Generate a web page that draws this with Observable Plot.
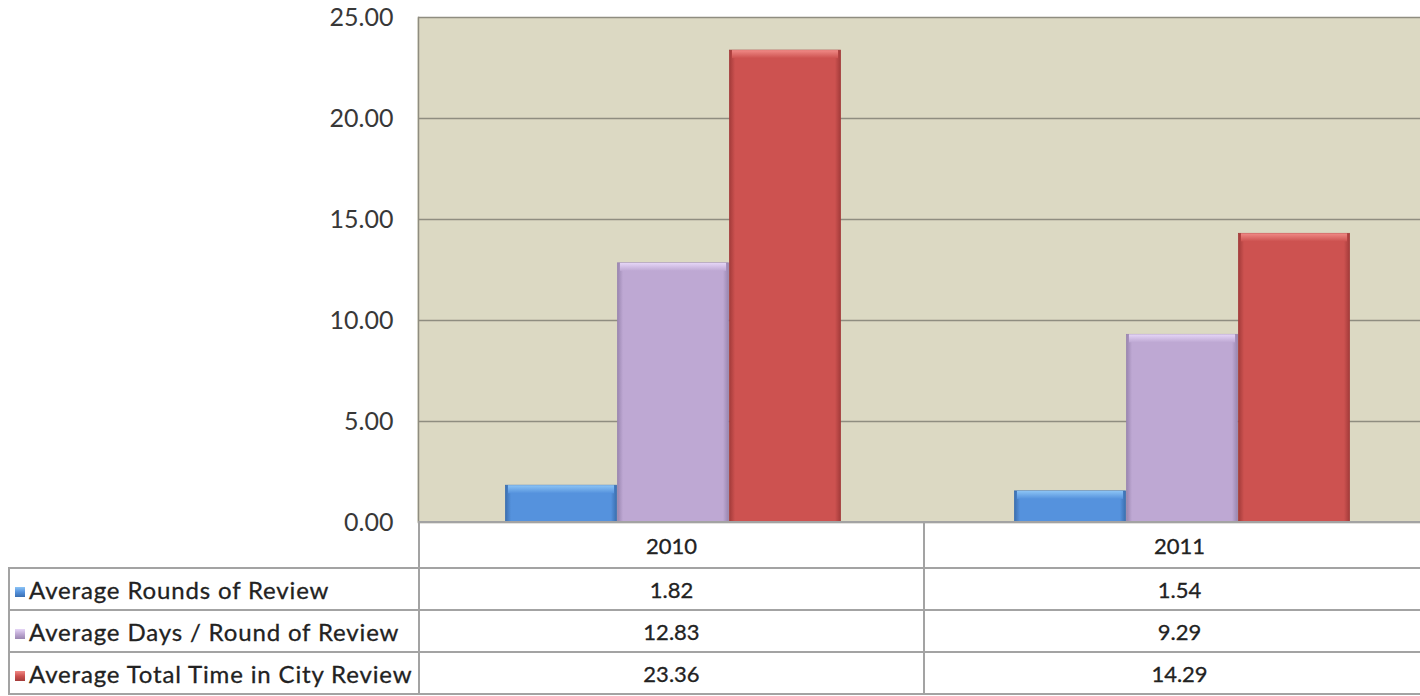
<!DOCTYPE html>
<html><head><meta charset="utf-8">
<script src="https://cdn.jsdelivr.net/npm/d3@7"></script>
<script src="https://cdn.jsdelivr.net/npm/@observablehq/plot@0.6"></script>
<style>
html,body{margin:0;padding:0;overflow:hidden;background:#fff;}
#wrap{position:relative;width:1436px;height:696px;font-family:Lato,sans-serif;}
#chart svg{display:block;}
table{position:absolute;left:8px;top:521px;border-collapse:collapse;table-layout:fixed;font-family:Lato,sans-serif;font-size:22px;color:#222;-webkit-text-stroke:0.3px #222;}
td{border:2px solid #a3a3a3;padding:0;text-align:center;white-space:nowrap;overflow:hidden;}
tr.head td{height:44px;}
tr.row td{height:40px;}
td.blank{border-top:none;border-left:none;}
td.name{text-align:left;padding-left:5px;font-size:24px;letter-spacing:0.85px;}
.key{display:inline-block;width:10px;height:10px;margin-right:4px;vertical-align:2px;-webkit-text-stroke:0;}
</style>
</head><body>
<div id="wrap"><div id="chart"></div></div>
<script>
const years = ["2010", "2011"];
const seriesNames = ["Average Rounds of Review", "Average Days / Round of Review", "Average Total Time in City Review"];
const avgRounds = [1.82, 1.54];
const avgDaysPerRound = [12.83, 9.29];
const avgTotalTime = [23.36, 14.29];
const seriesColors = ["#5592dd", "#bea8d3", "#cd5250"];
const seriesLight = ["#8cc4f5", "#e6d6f7", "#f08a86"];
const seriesStrokes = ["#3b6fb0", "#9a86b0", "#a33b3a"];

const seriesValues = [avgRounds, avgDaysPerRound, avgTotalTime];
const data = [];
years.forEach((yr, i) => seriesNames.forEach((s, j) => data.push({year: yr, series: s, value: seriesValues[j][i]})));

const bg = "#dcd9c3";
const gridColor = "#8f8d80";
const idx = d => seriesNames.indexOf(d.series);

// gradient definitions for the bevelled look
const defs = () => {
  const g = d3.create("svg:defs");
  seriesNames.forEach((s, j) => {
    const h = g.append("linearGradient").attr("id", "side" + j).attr("x1", 0).attr("x2", 1).attr("y1", 0).attr("y2", 0);
    h.append("stop").attr("offset", "0").attr("stop-color", seriesStrokes[j]);
    h.append("stop").attr("offset", "0.05").attr("stop-color", seriesColors[j]);
    h.append("stop").attr("offset", "0.95").attr("stop-color", seriesColors[j]);
    h.append("stop").attr("offset", "1").attr("stop-color", seriesStrokes[j]);
    const v = g.append("linearGradient").attr("id", "cap" + j).attr("x1", 0).attr("x2", 0).attr("y1", 0).attr("y2", 1);
    v.append("stop").attr("offset", "0").attr("stop-color", seriesLight[j]);
    v.append("stop").attr("offset", "1").attr("stop-color", seriesColors[j]);
  });
  return g.node();
};

const chart = Plot.plot({
  width: 1436,
  height: 523,
  marginLeft: 418,
  marginRight: 0,
  marginTop: 17,
  marginBottom: 1,
  style: {fontFamily: "Lato, sans-serif", fontSize: "25px", color: "#383838", background: "transparent", maxWidth: "none", overflow: "visible"},
  fx: {domain: years, padding: 0, axis: null, label: null},
  x: {domain: seriesNames, paddingInner: 0, paddingOuter: 0.77, axis: null},
  y: {domain: [0, 25], ticks: 5, tickFormat: d3.format(".2f"), tickSize: 0, tickPadding: 25, label: null},
  marks: [
    defs,
    Plot.frame({fill: bg, insetLeft: -1, insetRight: -1}),
    Plot.ruleY(d3.range(0, 26, 5), {stroke: gridColor, strokeWidth: 1.5}),
    Plot.barY(data, {fx: "year", x: "series", y: "value", fill: d => `url(#side${idx(d)})`,
      stroke: d => seriesStrokes[idx(d)], strokeWidth: 0.8, insetLeft: 0.5, insetRight: 0.5}),
    Plot.barY(data, {fx: "year", x: "series", y1: "value", y2: "value", insetBottom: -8, insetLeft: 3, insetRight: 3,
      fill: d => `url(#cap${idx(d)})`}),
    Plot.frame({anchor: "left", facetAnchor: "left", stroke: gridColor, strokeWidth: 1.5})
  ]
});
document.getElementById("chart").appendChild(chart);

// data table under the chart
const table = d3.select("#wrap").append("table");
const colgroup = table.append("colgroup");
colgroup.append("col").style("width", "410px");
colgroup.append("col").style("width", "506px");
colgroup.append("col").style("width", "512px");
const head = table.append("tr").attr("class", "head");
head.append("td").attr("class", "blank");
years.forEach(y => head.append("td").text(y));
seriesNames.forEach((s, j) => {
  const tr = table.append("tr").attr("class", "row");
  const td = tr.append("td").attr("class", "name");
  td.append("span").attr("class", "key").style("background", `linear-gradient(${seriesLight[j]}, ${seriesColors[j]} 50%, ${seriesStrokes[j]})`);
  td.append("span").text(s);
  seriesValues[j].forEach(v => tr.append("td").text(d3.format(".2f")(v)));
});
</script>
</body></html>
